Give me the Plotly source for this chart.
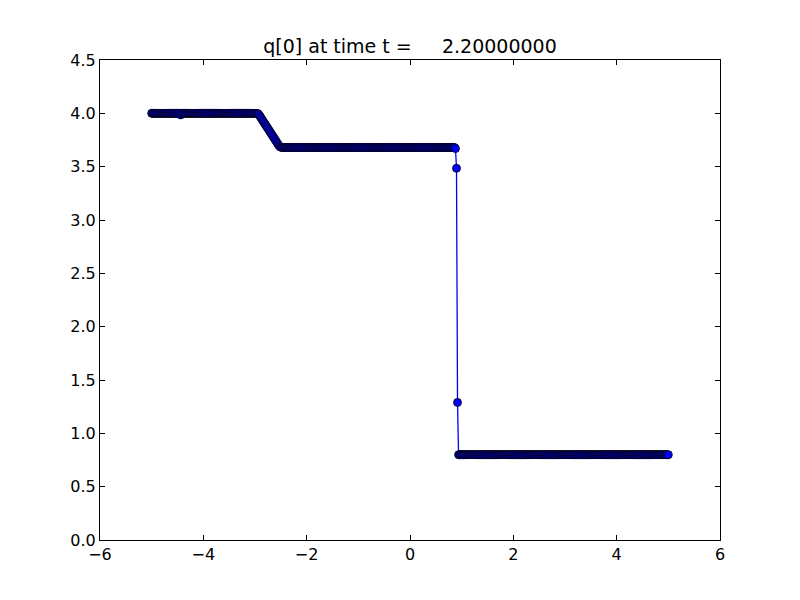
import numpy as np
import plotly.graph_objects as go

# cell grid, x from -5 to 5
x_cells = np.linspace(-5, 5, 501)

# left state (one slightly low cell near x=-4.44)
left_state = [4.0] * 103
left_state[28] = 3.985

# rarefaction between x=-2.94 and x=-2.50
ramp = [3.995, 3.985, 3.97, 3.955, 3.94, 3.925, 3.91, 3.895, 3.88, 3.865,
        3.85, 3.835, 3.82, 3.805, 3.79, 3.775, 3.76, 3.745, 3.73, 3.715,
        3.70, 3.688, 3.682]

# middle state
middle_state = [3.68] * 168

# shock cells near x=0.9
shock = [3.67, 3.485, 1.29]

# right state
right_state = [0.8] * 204

q0 = np.array(left_state + ramp + middle_state + shock + right_state)

title_text = "q[0] at time t =" + "\u00a0" * 5 + "2.20000000"

fig = go.Figure()
fig.add_trace(go.Scatter(x=x_cells, y=q0, mode="lines+markers",
                         line=dict(color="#0000ff", width=1.3),
                         marker=dict(size=8, color="#0000ff",
                                     line=dict(color="black", width=0.8)),
                         showlegend=False))

axis_style = dict(showline=True, mirror="ticks", linecolor="black", linewidth=1,
                  ticks="inside", ticklen=5, tickcolor="black", tickwidth=1,
                  showgrid=False, zeroline=False,
                  tickfont=dict(family="DejaVu Sans", size=16, color="black"))

fig.update_xaxes(range=[-6, 6], dtick=2, tick0=-6, **axis_style)
fig.update_yaxes(range=[0, 4.5], dtick=0.5, tick0=0, tickformat=".1f", **axis_style)

# page body has an 8px margin, so margins are shifted to land the axes box
# at the same place as the reference
fig.update_layout(
    width=800, height=600,
    margin=dict(l=92, r=88, t=52, b=68),
    paper_bgcolor="white", plot_bgcolor="white",
    title=dict(text=title_text, x=0.5, xref="paper", xanchor="center",
               y=1 - 38 / 600, yref="container", yanchor="middle",
               font=dict(family="DejaVu Sans", size=19, color="black")),
)

fig.write_html("out.html")
